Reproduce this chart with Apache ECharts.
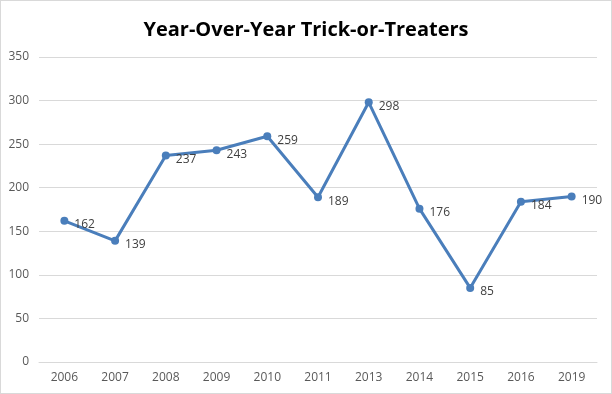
<!DOCTYPE html>
<html><head><meta charset="utf-8">
<script src="https://cdn.jsdelivr.net/npm/echarts@6/dist/echarts.min.js"></script>
<style>html,body{margin:0;padding:0;background:#fff}#c{width:612px;height:394px;box-sizing:border-box;border:1px solid #d9d9d9}</style>
</head><body><div id="c"></div>
<script>
const years = ['2006','2007','2008','2009','2010','2011','2013','2014','2015','2016','2019'];
const visitors = [162,139,237,243,259,189,298,176,85,184,190];
const chart = echarts.init(document.getElementById('c'));
const font = "'Open Sans',sans-serif";
chart.setOption({
  animation:false,
  title:{text:'Year-Over-Year Trick-or-Treaters',left:'center',top:14,
    textStyle:{fontFamily:font,fontWeight:'bold',fontSize:20,color:'#000'}},
  grid:{left:38,right:14,top:56,bottom:31},
  xAxis:{type:'category',data:years,boundaryGap:true,
    axisLine:{lineStyle:{color:'#d9d9d9'}},axisTick:{show:false},
    axisLabel:{color:'#595959',fontSize:12,margin:10,fontFamily:font}},
  yAxis:{type:'value',min:0,max:350,interval:50,
    axisLine:{show:false},axisTick:{show:false},
    splitLine:{lineStyle:{color:'#d9d9d9',width:1}},
    axisLabel:{color:'#595959',fontSize:12,margin:10,fontFamily:font}},
  series:[{type:'line',data:visitors,symbol:'circle',symbolSize:8,
    lineStyle:{color:'#4a7ebb',width:3},itemStyle:{color:'#4a7ebb'},
    label:{show:true,position:'right',offset:[0,4],distance:6,color:'#404040',fontSize:12,fontFamily:font}}]
});
</script></body></html>
